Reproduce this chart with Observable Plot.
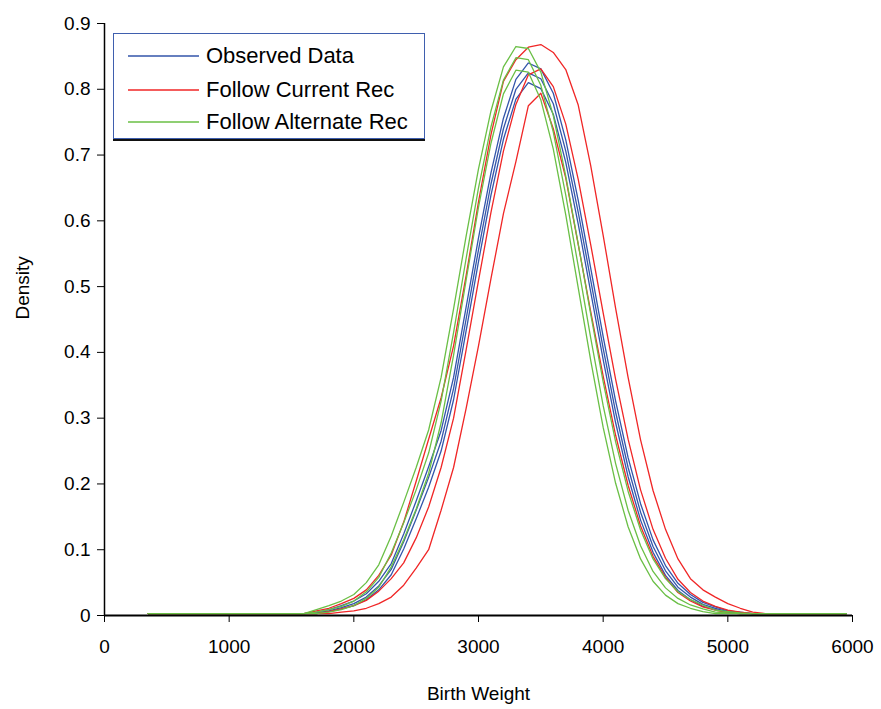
<!DOCTYPE html>
<html>
<head>
<meta charset="utf-8">
<script src="https://cdn.jsdelivr.net/npm/d3@7"></script>
<script src="https://cdn.jsdelivr.net/npm/@observablehq/plot@0.6"></script>
<style>
  body { margin: 0; background: white; }
  #wrap { position: relative; width: 881px; height: 709px; font-family: "Liberation Sans", Arial, sans-serif; }
  #legend { position: absolute; left: 113px; top: 33px; width: 310px; height: 104px; border: 1px solid #3f5fae; box-shadow: 0 2px 0 #111; background: white; }
  .item { position: absolute; left: 0; height: 24px; width: 310px; }
  .item svg { position: absolute; left: 14px; top: 0; }
  .item span { position: absolute; left: 92px; top: 0; font-size: 22px; color: #000; white-space: nowrap; line-height: 24px; }
</style>
</head>
<body>
<div id="wrap"></div>
<script>
// Birth weight grid (g)
const xs = [350,1600,1700,1800,1900,2000,2100,2200,2300,2400,2500,2600,2700,2800,2900,3000,3100,3200,3300,3400,3500,3600,3700,3800,3900,4000,4100,4200,4300,4400,4500,4600,4700,4800,4900,5000,5100,5200,5300,5950];

// Observed Data (three curves)
const obsHigh = [.003,.003,.005,.009,.015,.022,.033,.052,.079,.124,.174,.226,.281,.362,.468,.574,.673,.756,.815,.840,.831,.794,.723,.631,.528,.424,.326,.240,.170,.115,.076,.049,.032,.020,.013,.007,.005,.003,.003,.003];
const obsMid  = [.003,.003,.004,.007,.012,.018,.028,.045,.070,.112,.160,.210,.265,.345,.450,.556,.656,.740,.800,.825,.816,.778,.706,.613,.510,.406,.309,.225,.157,.105,.068,.043,.028,.017,.011,.006,.004,.003,.003,.003];
const obsLow  = [.003,.003,.003,.006,.010,.015,.024,.039,.062,.101,.147,.195,.250,.328,.432,.538,.639,.724,.785,.810,.801,.762,.689,.595,.492,.389,.293,.211,.145,.096,.061,.038,.024,.014,.009,.005,.003,.003,.003,.003];

// Follow Current Rec (three curves)
const curHigh = [.003,.003,.007,.011,.018,.026,.039,.061,.092,.142,.204,.268,.331,.410,.516,.629,.731,.812,.845,.864,.868,.856,.830,.776,.684,.578,.467,.362,.267,.190,.131,.086,.056,.039,.028,.018,.011,.005,.003,.003];
const curMid  = [.003,.003,.003,.006,.010,.015,.023,.037,.056,.080,.118,.165,.225,.300,.403,.509,.613,.706,.777,.822,.831,.804,.747,.663,.564,.460,.359,.268,.191,.131,.087,.055,.035,.022,.014,.008,.005,.003,.003,.003];
const curLow  = [.003,.003,.003,.003,.005,.007,.011,.018,.028,.046,.072,.100,.160,.225,.314,.410,.512,.611,.690,.775,.794,.740,.665,.564,.462,.364,.274,.198,.136,.090,.058,.035,.022,.013,.008,.004,.003,.003,.003,.003];

// Follow Alternate Rec (three curves)
const altHigh = [.003,.003,.009,.015,.022,.032,.050,.077,.121,.172,.225,.282,.362,.466,.576,.679,.767,.834,.865,.862,.826,.760,.668,.565,.458,.355,.264,.189,.130,.086,.056,.036,.024,.016,.008,.006,.004,.003,.003,.003];
const altMid  = [.003,.003,.005,.009,.014,.022,.036,.058,.095,.141,.191,.247,.326,.430,.542,.650,.743,.814,.848,.845,.806,.735,.639,.531,.422,.319,.231,.160,.106,.067,.042,.026,.016,.010,.005,.004,.003,.003,.003,.003];
const altLow  = [.003,.003,.003,.005,.009,.015,.026,.043,.074,.115,.162,.216,.293,.396,.509,.621,.718,.793,.829,.826,.784,.709,.609,.498,.388,.286,.201,.135,.086,.052,.031,.018,.011,.006,.003,.003,.003,.003,.003,.003];

const groups = ["Observed Data", "Follow Current Rec", "Follow Alternate Rec"];
const colors = ["#3355aa", "#f02626", "#6abf45"];

const xTicks = [0,1000,2000,3000,4000,5000,6000];
const yTicks = [0,0.1,0.2,0.3,0.4,0.5,0.6,0.7,0.8,0.9];
const yTickLabels = ["0","0.1","0.2","0.3","0.4","0.5","0.6","0.7","0.8","0.9"];

const seriesList = [
  {id: "obsHigh", group: groups[0], values: obsHigh},
  {id: "obsMid",  group: groups[0], values: obsMid},
  {id: "obsLow",  group: groups[0], values: obsLow},
  {id: "curHigh", group: groups[1], values: curHigh},
  {id: "curMid",  group: groups[1], values: curMid},
  {id: "curLow",  group: groups[1], values: curLow},
  {id: "altHigh", group: groups[2], values: altHigh},
  {id: "altMid",  group: groups[2], values: altMid},
  {id: "altLow",  group: groups[2], values: altLow}
];
const rows = seriesList.flatMap(s => s.values.map((v, i) => ({x: xs[i], y: v, series: s.id, group: s.group})));

const chart = Plot.plot({
  width: 881,
  height: 709,
  marginLeft: 104,
  marginRight: 29,
  marginTop: 23,
  marginBottom: 94,
  style: {fontFamily: "'Liberation Sans', Arial, sans-serif", fontSize: "19px", background: "white", color: "black", overflow: "visible"},
  x: {domain: [0, 6000]},
  y: {domain: [0, 0.9]},
  color: {domain: groups, range: colors},
  marks: [
    Plot.axisX({ticks: xTicks, tickSize: 7, tickPadding: 17, label: null, fontSize: 19, tickFormat: d => String(d)}),
    Plot.axisY({ticks: yTicks, tickSize: 7, tickPadding: 7, label: null, fontSize: 19, tickFormat: (d, i) => yTickLabels[i]}),
    Plot.line(rows, {x: "x", y: "y", z: "series", stroke: "group", strokeWidth: 1.3}),
    Plot.ruleX([0], {stroke: "black", strokeWidth: 1.5}),
    Plot.ruleY([0], {stroke: "black", strokeWidth: 2}),
    Plot.text(["Birth Weight"], {text: d => d, frameAnchor: "bottom", dy: 84, fontSize: 19}),
    Plot.text(["Density"], {text: d => d, frameAnchor: "left", dx: -82, rotate: -90, fontSize: 19})
  ]
});

const wrap = document.getElementById("wrap");
wrap.appendChild(chart);

// Legend box overlaid inside the plot area
const legend = document.createElement("div");
legend.id = "legend";
const itemTops = [10, 44, 76];
groups.forEach((g, i) => {
  const item = document.createElement("div");
  item.className = "item";
  item.style.top = itemTops[i] + "px";
  item.innerHTML = `<svg width="72" height="24"><line x1="0" x2="71" y1="12" y2="12" stroke="${colors[i]}" stroke-width="1.3"/></svg><span>${g}</span>`;
  legend.appendChild(item);
});
wrap.appendChild(legend);
</script>
</body>
</html>
